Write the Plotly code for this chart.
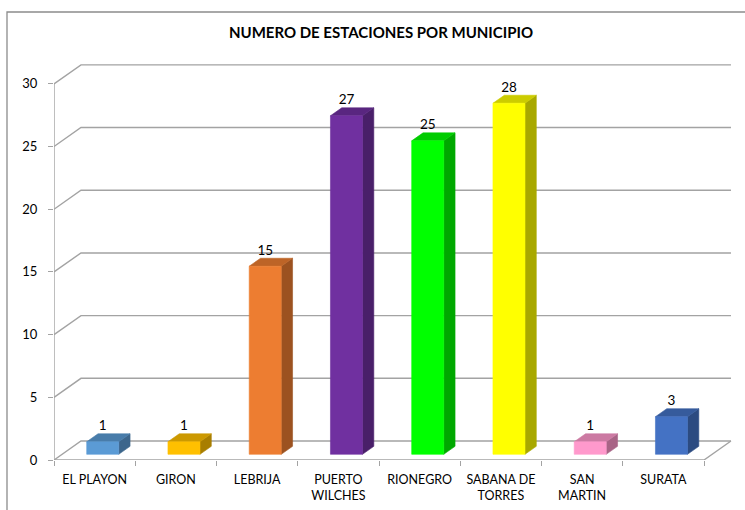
import plotly.graph_objects as go

# Data
municipios = ["EL PLAYON", "GIRON", "LEBRIJA", "PUERTO<br>WILCHES", "RIONEGRO",
              "SABANA DE<br>TORRES", "SAN<br>MARTIN", "SURATA"]
estaciones = [1, 1, 15, 27, 25, 28, 1, 3]
front_colors = ["#5B9BD5", "#FFC000", "#ED7D31", "#7030A0", "#00FF00",
                "#FFFF00", "#FF99CC", "#4472C4"]
y_ticks = [0, 5, 10, 15, 20, 25, 30]

# Pseudo-3D geometry (in axis units)
N = len(estaciones)
DEPTH_X = 0.332      # depth offset along x (categories)
DEPTH_Y = 1.515      # depth offset along y (value units)
BAR_W = 0.394        # front face width as fraction of a category
F0, F1 = 0.30, 0.72  # bar front/back position within the depth
GRID = "#A3A3A3"


def shade(hex_color, k):
    h = hex_color.lstrip("#")
    r, g, b = (int(h[i:i + 2], 16) for i in (0, 2, 4))
    return "rgb({},{},{})".format(int(r * k), int(g * k), int(b * k))


def poly(xs, ys, color):
    return go.Scatter(x=xs + [xs[0]], y=ys + [ys[0]], mode="lines", fill="toself",
                      fillcolor=color, line=dict(color=color, width=0.6),
                      hoverinfo="skip", showlegend=False)


def line(xs, ys, width=1.4):
    return go.Scatter(x=xs, y=ys, mode="lines", line=dict(color=GRID, width=width),
                      hoverinfo="skip", showlegend=False)


fig = go.Figure()

# Walls: side-wall + back-wall gridlines
for v in y_ticks:
    fig.add_trace(line([0, DEPTH_X, N + DEPTH_X], [v, v + DEPTH_Y, v + DEPTH_Y]))
# Floor front and right edges, vertical axis line
fig.add_trace(line([0, N, N + DEPTH_X], [0, 0, DEPTH_Y]))
fig.add_trace(line([0, 0], [0, max(y_ticks)]))

# Bars
for i, (v, c) in enumerate(zip(estaciones, front_colors)):
    x0 = i + 0.5 - BAR_W / 2 + F0 * DEPTH_X
    x1 = x0 + BAR_W
    y0 = F0 * DEPTH_Y
    dx = (F1 - F0) * DEPTH_X
    dy = (F1 - F0) * DEPTH_Y
    top = v + y0
    # side face
    fig.add_trace(poly([x1, x1 + dx, x1 + dx, x1], [y0, y0 + dy, top + dy, top], shade(c, 0.66)))
    # top face
    fig.add_trace(poly([x0, x1, x1 + dx, x0 + dx], [top, top, top + dy, top + dy], shade(c, 0.8)))
    # front face
    fig.add_trace(poly([x0, x1, x1, x0], [y0, y0, top, top], c))

# Value labels
label_x = [i + 0.5 + F0 * DEPTH_X for i in range(N)]
label_y = [v + F1 * DEPTH_Y for v in estaciones]
fig.add_trace(go.Scatter(x=label_x, y=label_y, mode="text",
                         text=[str(v) for v in estaciones], textposition="top center",
                         textfont=dict(family="Lato, sans-serif", size=13.5, color="#000000"),
                         hoverinfo="skip", showlegend=False))

W, H = 745, 510
L, R, T, B = 54, 5, 50, 50
pw, ph = W - L - R, H - T - B
x_max = pw / 81.25
y_max = ph / 12.538

# Chart-area border (left and top edges visible)
fig.add_shape(type="rect", xref="paper", yref="paper",
              x0=(7 - L) / pw, x1=(W + 20 - L) / pw,
              y0=(H - B - (H + 20)) / ph, y1=(H - B - 12) / ph,
              line=dict(color="#8C8C8C", width=1.3), fillcolor="rgba(0,0,0,0)", layer="below")

fig.update_layout(
    width=W, height=H,
    margin=dict(l=L, r=R, t=T, b=B, autoexpand=False),
    paper_bgcolor="white", plot_bgcolor="white",
    title=dict(text="<b>NUMERO DE ESTACIONES POR MUNICIPIO</b>",
               x=381 / W, xanchor="center", xref="container",
               y=1 - 33 / H, yanchor="middle", yref="container",
               font=dict(family="Lato, sans-serif", size=15, color="#000000")),
    xaxis=dict(range=[0, x_max], showgrid=False, zeroline=False, showline=False,
               tickmode="array", tickvals=[i + 0.5 for i in range(N)], ticktext=municipios,
               ticks="", ticklabelstandoff=10,
               tickfont=dict(family="Lato, sans-serif", size=12.5, color="#000000"),
               minor=dict(tickmode="array", tickvals=list(range(N + 1)), ticks="outside",
                          ticklen=5, tickcolor=GRID, tickwidth=1.3, showgrid=False),
               fixedrange=True),
    yaxis=dict(range=[0, y_max], showgrid=False, zeroline=False, showline=False,
               tickmode="array", tickvals=y_ticks, ticks="outside", ticklen=5,
               tickcolor=GRID, tickwidth=1.3, ticklabelstandoff=8,
               tickfont=dict(family="Lato, sans-serif", size=13, color="#000000"),
               fixedrange=True),
)

fig.write_html("out.html")
